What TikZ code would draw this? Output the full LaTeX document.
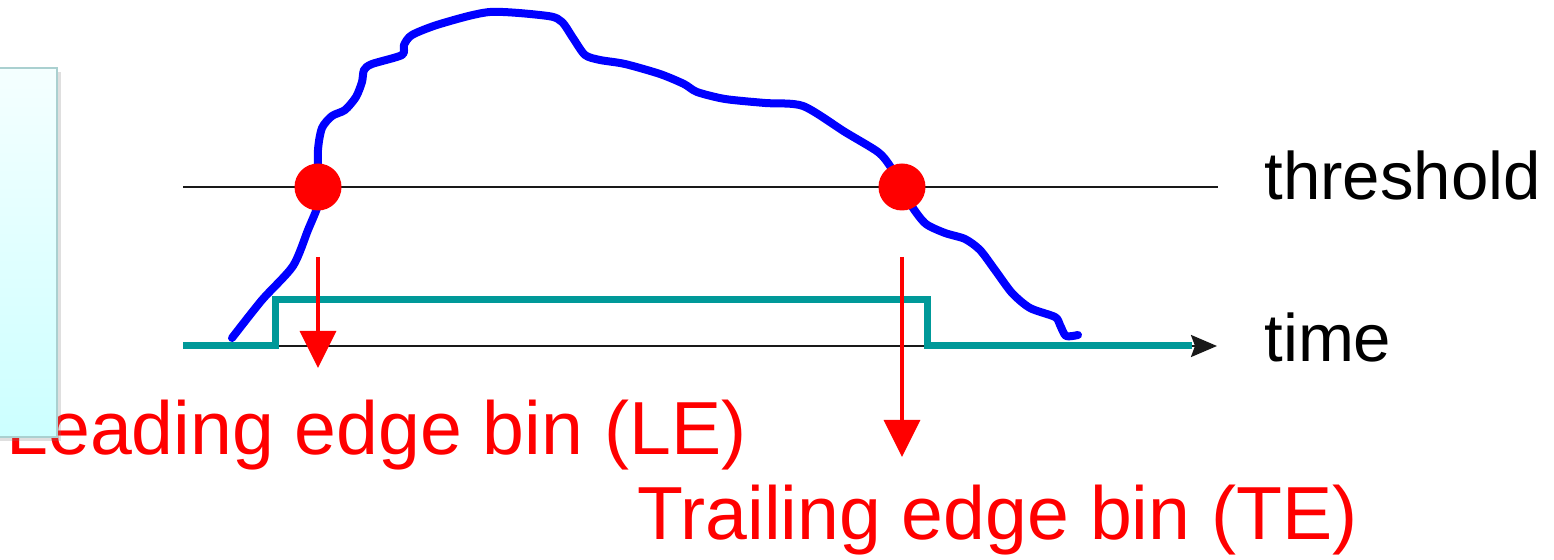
\documentclass[tikz,border=0pt]{standalone}
\usepackage{fontspec}
\setmainfont{Liberation Sans}
\usetikzlibrary{arrows.meta,shadows}
\definecolor{pulseteal}{RGB}{0,153,153}
\definecolor{paneledge}{RGB}{170,208,208}
\begin{document}
\begin{tikzpicture}[x=0.5pt,y=-0.5pt,
  axisline/.style={draw=black!90, line width=1.3pt},
  signal/.style={draw=blue, line width=4pt, line cap=round, line join=round},
  pulse/.style={draw=pulseteal, line width=3.5pt, line join=miter},
  crossing/.style={circle, fill=red, inner sep=0pt, minimum size=23.5pt},
  binarrow/.style={draw=red, line width=1.6pt, -{Triangle[width=18pt,length=18.5pt]}},
  label/.style={font=\fontsize{33.6}{40}\selectfont, inner sep=0pt, anchor=base west},
  redlabel/.style={font=\fontsize{37.6}{44}\selectfont, text=red, inner sep=0pt, anchor=base west},
]
\useasboundingbox (0,0) rectangle (1554,560);

% axes
\coordinate (thrL) at (183,187);
\coordinate (thrR) at (1218,187);
\coordinate (timeL) at (183,346);
\coordinate (timeR) at (1217,346);
\draw[axisline] (thrL) -- (thrR);
\draw[axisline, -{Stealth[length=13pt,width=11pt,inset=2pt]}] (timeL) -- (timeR);

% digitised pulse
\coordinate (p0) at (183,346);
\coordinate (p1) at (275,346);
\coordinate (p2) at (275,300);
\coordinate (p3) at (927,300);
\coordinate (p4) at (927,346);
\coordinate (p5) at (1192,346);
\draw[pulse] (p0) -- (p1) -- (p2) -- (p3) -- (p4) -- (p5);

% analogue signal
\draw[signal] plot[smooth, tension=0.45] coordinates {
  (232,338) (262,300) (293,266) (308,230) (318,205) (318,187)
  (318,150) (322,128) (332,116) (345,110) (356,97) (362,82) (364,70)
  (372,64) (402,55) (404,45) (412,35) (440,24) (490,12) (548,16)
  (562,22) (573,38) (585,55) (600,60) (625,64) (660,74) (684,84)
  (697,92) (725,99) (765,103) (803,106) (845,132) (878,152)
  (890,166) (902,187) (913,208) (926,224) (945,233) (965,239)
  (980,250) (995,270) (1012,293) (1030,308) (1055,317) (1060,325)
  (1066,336) (1078,335)};

% threshold crossings
\node[crossing] (le) at (318,187) {};
\node[crossing] (te) at (902,187) {};

% bin markers
\coordinate (leTop) at (318,257);
\coordinate (leTip) at (318,368);
\coordinate (teTop) at (902,257);
\coordinate (teTip) at (902,457);
\draw[binarrow] (leTop) -- (leTip);
\draw[binarrow] (teTop) -- (teTip);

% labels
\node[label] (thrtext) at (1264,200) {threshold};
\node[label] (timetext) at (1264,362) {time};
\node[redlabel] (letext) at (6,455) {Leading edge bin (LE)};
\node[redlabel] (tetext) at (637,540) {Trailing edge bin (TE)};

% side panel
\path[draw=paneledge, line width=0.8pt, top color=cyan!4, bottom color=cyan!20,
      drop shadow={shadow xshift=2pt, shadow yshift=-2pt, opacity=0.25}]
  (-20,68) rectangle (57,437);
\end{tikzpicture}
\end{document}
